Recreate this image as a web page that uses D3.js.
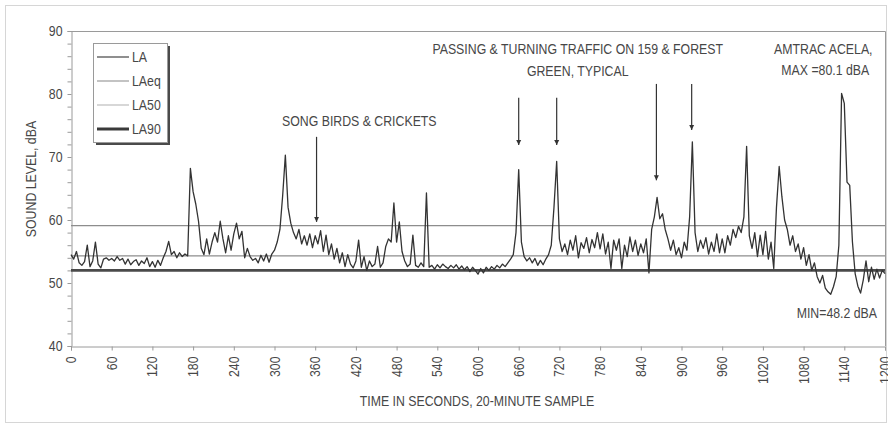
<!DOCTYPE html>
<html><head><meta charset="utf-8">
<script src="https://cdn.jsdelivr.net/npm/d3@7"></script>
<style>
html,body{margin:0;padding:0;background:#fff;}
svg text{font-family:"Liberation Sans",Arial,sans-serif;fill:#474747;font-size:14px;}
</style></head><body>
<svg id="chart" width="888" height="425"></svg>
<script>
// A-weighted sound level, one reading every 4 seconds over a 20-minute sample
const sampleStep = 4;
const laLevels = [
  54.5,53.8,55.0,53.2,52.8,53.4,56.0,52.6,53.5,56.5,53.0,52.4,53.8,54.0,53.6,
  53.9,53.5,54.2,53.6,53.9,53.0,53.8,52.9,53.4,53.7,52.8,53.5,53.1,54.0,52.6,
  53.4,52.5,53.6,52.8,54.0,55.0,56.6,54.5,55.0,54.0,54.8,54.2,54.6,54.3,68.2,
  64.5,62.5,59.8,55.5,54.5,57.0,54.6,56.5,58.0,56.5,59.8,57.0,54.8,57.5,55.2,
  57.8,59.5,57.0,58.2,54.0,55.5,54.2,53.6,53.9,53.2,54.4,53.5,54.6,53.3,54.6,
  55.2,56.5,58.5,63.8,70.3,62.0,59.5,58.0,57.0,58.5,56.2,57.5,56.0,57.8,55.6,
  57.5,56.2,58.3,55.0,57.6,54.5,56.2,53.8,55.5,53.2,54.8,52.6,54.5,53.0,52.4,
  53.5,56.8,52.5,54.2,52.0,53.5,52.6,53.0,55.8,52.5,53.2,55.8,57.0,56.5,62.7,
  56.5,59.7,55.0,53.5,52.6,53.0,57.6,52.8,52.5,53.2,52.6,64.3,52.5,52.8,52.2,
  52.9,52.4,53.0,52.6,52.3,52.8,52.4,52.9,52.2,52.7,52.1,52.6,51.8,52.5,52.0,
  51.4,52.3,51.6,52.5,52.0,52.6,52.2,52.8,52.4,53.0,52.6,53.2,53.8,54.5,58.0,
  68.0,56.5,54.2,53.5,54.0,53.2,53.9,52.8,53.6,52.9,53.8,54.5,56.0,62.0,69.3,
  57.0,55.0,56.2,54.5,56.8,55.2,57.5,54.0,56.4,55.5,57.2,54.8,56.9,55.6,58.0,
  55.4,57.8,54.6,56.5,52.3,56.8,55.2,57.0,52.3,56.0,54.2,57.3,55.0,56.8,54.4,
  56.2,54.8,57.0,51.6,58.5,60.5,63.6,60.2,61.0,58.5,57.0,55.2,56.8,54.5,55.6,
  54.0,56.5,55.2,60.5,72.4,58.0,55.0,56.8,55.5,57.2,54.6,56.5,55.0,57.8,54.8,
  57.0,54.8,57.5,56.0,58.5,57.2,59.0,58.0,60.5,71.7,57.5,55.5,58.0,54.2,57.6,
  54.5,58.2,53.8,56.5,52.3,62.0,68.5,63.7,60.0,58.5,56.0,57.5,55.0,56.2,53.8,
  55.6,52.8,54.5,52.0,53.2,51.0,50.0,51.2,49.2,48.6,48.2,49.4,51.0,56.0,80.1,
  78.5,66.0,65.5,56.5,51.5,49.5,48.4,50.5,53.5,50.2,52.5,50.6,52.2,50.8,52.0,
  51.5
];
const laeqLevel = 59.1;
const la50Level = 54.3;
const la90Level = 52.0;
const timeTicks = [0,60,120,180,240,300,360,420,480,540,600,660,720,780,840,900,960,1020,1080,1140,1200];
const levelTicks = [40,50,60,70,80,90];
const legendLabels = ["LA","LAeq","LA50","LA90"];

// callout arrows: time (s), tail level, head level (dBA)
const arrowTimes = [362, 660, 716, 863, 915];
const arrowTails = [73.2, 79.4, 79.4, 81.6, 81.6];
const arrowHeads = [59.7, 71.9, 71.9, 66.3, 74.3];

const svg = d3.select("#chart");
const x = d3.scaleLinear().domain([0,1200]).range([71,885]);
const y = d3.scaleLinear().domain([40,90]).range([346,31]);

// condensed lettering: regular face squeezed along the text direction
const narrow = 0.88;
function label(parent, px, py, str, anchor, angle) {
  return parent.append("text")
    .attr("transform", `translate(${px},${py}) rotate(${angle||0}) scale(${narrow},1)`)
    .attr("dy","0.36em").attr("text-anchor", anchor || "middle").text(str);
}

// outer chart frame
svg.append("rect").attr("x",5.5).attr("y",5.5).attr("width",881).attr("height",417)
  .attr("fill","none").attr("stroke","#d6d6d6");

// plot area border (top and right)
svg.append("path").attr("d",`M${x(0)},${y(90)+0.5}H${x(1200)+0.5}V${y(40)}`)
  .attr("fill","none").attr("stroke","#9a9a9a").attr("stroke-width",1);

// y axis with minor ticks every 2 dBA
const yAxisG = svg.append("g").attr("transform",`translate(${x(0)+0.5},0)`);
yAxisG.call(d3.axisLeft(y).tickValues(d3.range(40,91,2)).tickSize(4).tickFormat(""));
yAxisG.selectAll("path,line").attr("stroke","#9a9a9a");
levelTicks.forEach(v => label(yAxisG, -9, y(v), v, "end"));

// x axis
const xAxisG = svg.append("g").attr("transform",`translate(0,${y(40)+0.5})`);
xAxisG.call(d3.axisBottom(x).tickValues(timeTicks).tickSize(4).tickFormat(""));
xAxisG.selectAll("path,line").attr("stroke","#9a9a9a");
timeTicks.forEach(t => label(xAxisG, x(t), 10, t, "end", -90));

// axis titles
label(svg, 31, y(66.5), "SOUND LEVEL, dBA", "middle", -90);
label(svg, x(600)-1, 401, "TIME IN SECONDS, 20-MINUTE SAMPLE", "middle");

// statistical levels
const refLines = [
  {v:laeqLevel, c:"#8d8d8d", w:1.2},
  {v:la50Level, c:"#8d8d8d", w:1.2},
  {v:la90Level, c:"#4a4a4a", w:2.6}
];
svg.selectAll(".ref").data(refLines).join("line")
  .attr("x1",x(0)).attr("x2",x(1200)).attr("y1",d=>y(d.v)).attr("y2",d=>y(d.v))
  .attr("stroke",d=>d.c).attr("stroke-width",d=>d.w);

// LA time history
const line = d3.line().x((d,i)=>x(i*sampleStep)).y(d=>y(d));
svg.append("path").datum(laLevels).attr("d",line)
  .attr("fill","none").attr("stroke","#333").attr("stroke-width",1.3)
  .attr("stroke-linejoin","round");

// legend
const lg = svg.append("g").attr("transform","translate(93,43)");
lg.append("rect").attr("x",3).attr("y",3).attr("width",74).attr("height",99).attr("fill","#4a4a4a");
lg.append("rect").attr("x",0.5).attr("y",0.5).attr("width",74).attr("height",99)
  .attr("fill","#fff").attr("stroke","#9a9a9a");
const legendStyle = [
  {c:"#444", w:1.2},{c:"#9a9a9a", w:1.2},{c:"#bdbdbd", w:1.2},{c:"#3a3a3a", w:3}
];
legendLabels.forEach((lab,i)=>{
  const cy = 14 + i*24;
  lg.append("line").attr("x1",4).attr("x2",36).attr("y1",cy).attr("y2",cy)
    .attr("stroke",legendStyle[i].c).attr("stroke-width",legendStyle[i].w);
  label(lg, 39, cy, lab, "start");
});

// callout arrows
svg.append("defs").append("marker").attr("id","head").attr("viewBox","0 0 10 10")
  .attr("refX",10).attr("refY",5).attr("markerWidth",5).attr("markerHeight",7)
  .attr("markerUnits","userSpaceOnUse").attr("orient","auto")
  .append("path").attr("d","M0,0L10,5L0,10Z").attr("fill","#333");
svg.selectAll(".arrow").data(arrowTimes).join("line")
  .attr("x1",d=>x(d)).attr("x2",d=>x(d))
  .attr("y1",(d,i)=>y(arrowTails[i])).attr("y2",(d,i)=>y(arrowHeads[i]))
  .attr("stroke","#333").attr("stroke-width",1.2).attr("marker-end","url(#head)");

// annotation text
const notes = [
  {t:425, v:75.8, s:"SONG BIRDS & CRICKETS"},
  {t:747, v:87.1, s:"PASSING & TURNING TRAFFIC ON 159 & FOREST"},
  {t:747, v:83.6, s:"GREEN, TYPICAL"},
  {t:1109, v:87.1, s:"AMTRAC ACELA,"},
  {t:1112, v:83.8, s:"MAX =80.1 dBA"},
  {t:1129, v:45.3, s:"MIN=48.2 dBA"}
];
notes.forEach(n => label(svg, x(n.t), y(n.v), n.s, "middle"));
</script>
</body></html>
